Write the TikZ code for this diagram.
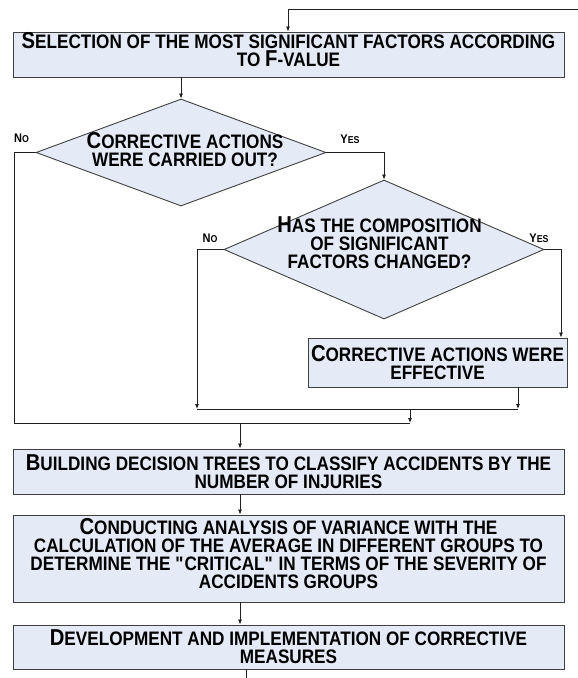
\documentclass[tikz,border=0pt]{standalone}
\usepackage{fontspec}
\setmainfont{Liberation Sans}
\newfontfamily\condfont{Liberation Sans}[FakeStretch=0.88]
\usetikzlibrary{shapes.geometric,arrows.meta}
\definecolor{boxfill}{HTML}{E4EBF6}
\definecolor{boxline}{HTML}{404040}
\definecolor{conn}{HTML}{202020}
\newcommand{\Bg}[1]{{\fontsize{23}{18}\selectfont #1}}
\newcommand{\Lb}[1]{{\fontsize{12.5}{12}\selectfont #1}}
\tikzset{
  stepbox/.style={draw=boxline, fill=boxfill, line width=0.9pt, rectangle, inner sep=0pt,
    align=center, font=\condfont\bfseries\fontsize{19.5}{18}\selectfont},
  decbox/.style={draw=boxline, fill=boxfill, line width=0.9pt, diamond, inner sep=0pt},
  dectext/.style={align=center, inner sep=0pt, font=\condfont\bfseries\fontsize{19.5}{18}\selectfont},
  lbl/.style={inner sep=0pt, font=\condfont\bfseries\fontsize{10}{12}\selectfont},
  conn/.style={draw=conn, line width=0.8pt},
  arr/.style={conn, -{Latex[length=5pt,width=4pt]}}
}
\begin{document}
\begin{tikzpicture}[x=1pt,y=-1pt]
\useasboundingbox (0,0) rectangle (578,678);
% boxes
\node[stepbox, minimum width=551pt, minimum height=45pt, text depth=10pt] (b1) at (288.5,54.5)
  {\Bg{S}ELECTION OF THE MOST SIGNIFICANT FACTORS ACCORDING\\TO \Bg{F}-VALUE};
\node[decbox, minimum width=290pt, minimum height=107pt] (d1) at (181,152.5) {};
\node[dectext] (d1t) at (185,150) {\Bg{C}ORRECTIVE ACTIONS\\WERE CARRIED OUT?};
\node[decbox, minimum width=320pt, minimum height=139pt] (d2) at (384,249.5) {};
\node[dectext] (d2t) at (379.5,243) {\Bg{H}AS THE COMPOSITION\\OF SIGNIFICANT\\FACTORS CHANGED?};
\node[stepbox, minimum width=259pt, minimum height=49pt] (ce) at (437.5,362.5)
  {\Bg{C}ORRECTIVE ACTIONS WERE\\EFFECTIVE};
\node[stepbox, minimum width=551pt, minimum height=45pt] (b2) at (288.5,471.5)
  {\Bg{B}UILDING DECISION TREES TO CLASSIFY ACCIDENTS BY THE\\NUMBER OF INJURIES};
\node[stepbox, minimum width=551pt, minimum height=87pt, text depth=11pt] (b3) at (288.5,558.5)
  {\Bg{C}ONDUCTING ANALYSIS OF VARIANCE WITH THE\\CALCULATION OF THE AVERAGE IN DIFFERENT GROUPS TO\\DETERMINE THE \textquotedbl CRITICAL\textquotedbl{} IN TERMS OF THE SEVERITY OF\\ACCIDENTS GROUPS};
\node[stepbox, minimum width=551pt, minimum height=44pt] (b4) at (288.5,647)
  {\Bg{D}EVELOPMENT AND IMPLEMENTATION OF CORRECTIVE\\MEASURES};
% labels
\node[lbl] (no1) at (21.5,138) {\Lb{N}O};
\node[lbl] (yes1) at (350,139) {\Lb{Y}ES};
\node[lbl] (no2) at (210,238) {\Lb{N}O};
\node[lbl] (yes2) at (539,238) {\Lb{Y}ES};
% coordinates
\coordinate (tp) at (578,9.5);
\coordinate (tq) at (288,9.5);
\coordinate (nl) at (14,152.5);
\coordinate (nr) at (197,249.5);
\coordinate (m1l) at (197,409);
\coordinate (m1r) at (518,409);
\coordinate (m1) at (410,409);
\coordinate (m2) at (410,423);
\coordinate (m2l) at (14,423);
\coordinate (j) at (240,423);
\coordinate (yr) at (561,249.5);
\coordinate (bot) at (246,678);
% connectors
\draw[arr] (tp) -- (tq) -- (tq |- b1.north);
\draw[arr] (b1.south -| d1.north) -- (d1.north);
\draw[conn] (d1.west) -- (nl) -- (m2l) -- (m2);
\draw[arr] (d1.east) -| (d2.north);
\draw[arr] (d2.west) -- (nr) -- (m1l);
\draw[arr] (d2.east) -- (yr) -- (yr |- ce.north);
\draw[arr] (ce.south -| m1r) -- (m1r);
\draw[conn] (m1l) -- (m1r);
\draw[arr] (m1) -- (m2);
\draw[arr] (j) -- (j |- b2.north);
\draw[arr] (b2.south -| j) -- (j |- b3.north);
\draw[arr] (b3.south -| j) -- (j |- b4.north);
\draw[conn] (b4.south -| bot) -- (bot);
\end{tikzpicture}
\end{document}
